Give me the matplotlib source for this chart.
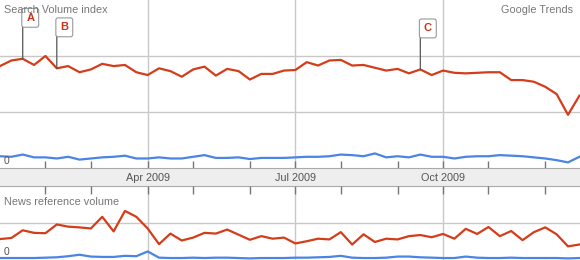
import matplotlib.pyplot as plt

# weekly points, first one is the week of Jan 4 2009
weeks = list(range(52))

search_red = [1.82, 1.92, 1.95, 1.84, 2.00, 1.78, 1.82, 1.71, 1.76, 1.86,
              1.82, 1.84, 1.71, 1.66, 1.78, 1.73, 1.63, 1.76, 1.81, 1.65,
              1.77, 1.73, 1.58, 1.68, 1.68, 1.74, 1.75, 1.89, 1.83, 1.92,
              1.93, 1.83, 1.84, 1.79, 1.74, 1.77, 1.69, 1.76, 1.66, 1.74,
              1.70, 1.69, 1.70, 1.71, 1.71, 1.57, 1.57, 1.54, 1.45, 1.32,
              0.95, 1.29]
search_blue = [0.21, 0.20, 0.24, 0.19, 0.19, 0.17, 0.20, 0.15, 0.17, 0.19,
               0.20, 0.22, 0.17, 0.17, 0.19, 0.17, 0.17, 0.20, 0.23, 0.18,
               0.18, 0.19, 0.16, 0.18, 0.18, 0.18, 0.19, 0.20, 0.20, 0.21,
               0.24, 0.23, 0.21, 0.26, 0.19, 0.21, 0.19, 0.24, 0.20, 0.20,
               0.17, 0.20, 0.21, 0.21, 0.23, 0.22, 0.21, 0.19, 0.17, 0.14,
               0.10, 0.20]
news_red = [0.56, 0.59, 0.80, 0.73, 0.72, 0.96, 0.90, 0.88, 0.85, 1.17,
            0.77, 1.33, 1.17, 0.85, 0.42, 0.71, 0.52, 0.60, 0.73, 0.71,
            0.82, 0.68, 0.54, 0.64, 0.57, 0.60, 0.44, 0.50, 0.57, 0.55,
            0.75, 0.41, 0.69, 0.48, 0.57, 0.55, 0.64, 0.67, 0.61, 0.70,
            0.57, 0.84, 0.70, 0.89, 0.64, 0.78, 0.53, 0.75, 0.88, 0.69,
            0.36, 0.41]
news_blue = [0.04, 0.04, 0.04, 0.04, 0.05, 0.06, 0.09, 0.13, 0.08, 0.07,
             0.07, 0.10, 0.09, 0.22, 0.05, 0.04, 0.04, 0.05, 0.04, 0.05,
             0.05, 0.04, 0.03, 0.04, 0.04, 0.04, 0.05, 0.05, 0.06, 0.07,
             0.10, 0.05, 0.04, 0.04, 0.05, 0.08, 0.08, 0.06, 0.05, 0.04,
             0.04, 0.08, 0.05, 0.04, 0.04, 0.05, 0.04, 0.04, 0.04, 0.04,
             0.03, 0.04]

month_ticks = [4, 8, 13, 17, 22, 26, 30, 35, 39, 43, 48]
quarter_ticks = [13, 26, 39]
quarter_labels = ['Apr 2009', 'Jul 2009', 'Oct 2009']
flag_letters = ['A', 'B', 'C']
flag_weeks = [2, 5, 37]

plt.rcParams['font.family'] = ['Liberation Sans', 'DejaVu Sans']

RED = '#d43d1a'
BLUE = '#4a84e4'
GRID = '#c8c8c8'
W, H = 580, 260
week_px = 11.36

fig = plt.figure(figsize=(5.8, 2.6), dpi=100)

def band(top, bottom):
    return [0, 1 - bottom / H, 1, (bottom - top) / H]

ax1 = fig.add_axes(band(0, 168))
axb = fig.add_axes(band(168, 186))
ax2 = fig.add_axes(band(186, 260))

for ax in (ax1, axb, ax2):
    ax.set_xlim(0, W / week_px)
    for s in ax.spines.values():
        s.set_visible(False)
    ax.set_yticks([])
    ax.patch.set_alpha(0)

# top chart
ax1.set_ylim(0, 3)
for g in [1, 2]:
    ax1.axhline(g, color=GRID, lw=1, zorder=1)
for q in quarter_ticks:
    ax1.axvline(q, color=GRID, lw=1, zorder=1)
ax1.plot(weeks, search_blue, color=BLUE, lw=1.6, zorder=3, clip_on=False)
ax1.plot(weeks, search_red, color=RED, lw=1.6, zorder=3, clip_on=False)
ax1.set_xticks(month_ticks)
ax1.tick_params(axis='x', bottom=True, direction='in', length=5, width=1,
                color='#777777', labelbottom=False)

# event flags: a vertical stem from the point, then the lettered box
for letter, wk in zip(flag_letters, flag_weeks):
    ax1.annotate('', xy=(wk, search_red[wk]), xytext=(0, 34),
                 textcoords='offset pixels', zorder=5,
                 arrowprops=dict(arrowstyle='-', color='#555555', lw=0.9,
                                 shrinkA=0, shrinkB=0))
    ax1.annotate(letter, xy=(wk, search_red[wk]), xytext=(3.5, 41),
                 textcoords='offset pixels', ha='left', va='center',
                 fontsize=8, fontweight='bold', color='#cc3318', zorder=6,
                 bbox=dict(boxstyle='round,pad=0.4,rounding_size=0.2',
                           fc='white', ec='#999999', lw=0.8))

# axis band
axb.set_facecolor('#eeeeee')
axb.patch.set_alpha(1)
axb.set_xticks([])
axb.spines['top'].set_visible(True)
axb.spines['bottom'].set_visible(True)
axb.spines['top'].set_color('#aaaaaa')
axb.spines['bottom'].set_color('#aaaaaa')
for q, lab in zip(quarter_ticks, quarter_labels):
    axb.text(q, 0.44, lab, ha='center', va='center', fontsize=7.8,
             color='#555555')

# bottom chart
ax2.set_ylim(-0.014, 2.014)
ax2.axhline(1, color=GRID, lw=1, zorder=1)
for q in quarter_ticks:
    ax2.axvline(q, color=GRID, lw=1, zorder=1)
ax2.plot(weeks, news_blue, color=BLUE, lw=1.6, zorder=3)
ax2.plot(weeks, news_red, color=RED, lw=1.6, zorder=3)
ax2.set_xticks(month_ticks)
ax2.tick_params(axis='x', bottom=False, top=True, direction='in', length=6,
                width=1, color='#777777', labelbottom=False, labeltop=False)

# labels
txt = dict(fontsize=7.8, color='#777777', va='center')
fig.text(4 / W, 1 - 10 / H, 'Search Volume index', ha='left', zorder=2, **txt)
fig.text(573 / W, 1 - 10 / H, 'Google Trends', ha='right', **txt)
fig.text(4 / W, 1 - 202 / H, 'News reference volume', ha='left', **txt)
fig.text(7 / W, 1 - 161 / H, '0', ha='center', va='center', fontsize=7.5,
         color='#555555')
fig.text(7 / W, 1 - 252 / H, '0', ha='center', va='center', fontsize=7.5,
         color='#555555')

fig.savefig('out.png', dpi=100)
